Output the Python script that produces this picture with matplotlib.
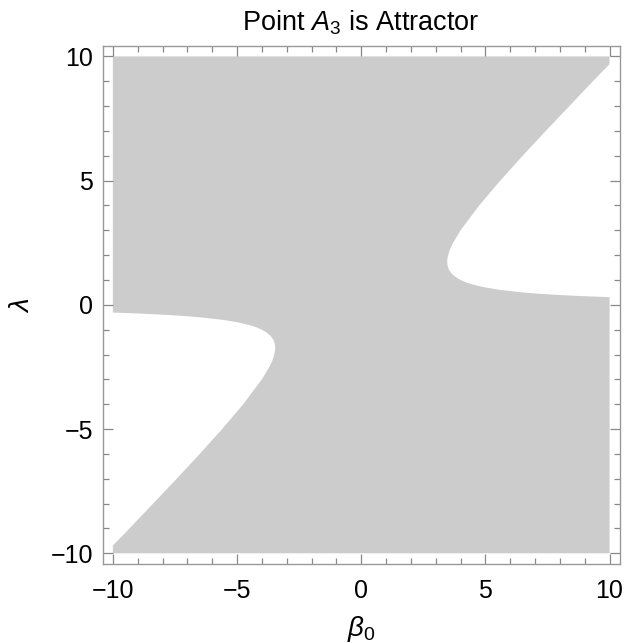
import matplotlib
matplotlib.use("Agg")
import matplotlib.pyplot as plt
from matplotlib.ticker import MultipleLocator

plt.rcParams['font.family'] = ['Liberation Sans', 'DejaVu Sans']
plt.rcParams['mathtext.fontset'] = 'custom'
plt.rcParams['mathtext.rm'] = 'Liberation Sans'
plt.rcParams['mathtext.it'] = 'Liberation Sans:italic'
plt.rcParams['mathtext.sf'] = 'Liberation Sans'
plt.rcParams['axes.unicode_minus'] = True

# Boundary of the right white (non-attractor) region:
# lambda values and the beta_0 value of the boundary at each lambda
lam_right = [9.69, 9.0, 8.0, 7.0, 6.0, 5.0, 4.0, 3.0, 2.5, 2.25, 2.0, 1.9, 1.75,
             1.6, 1.5, 1.4, 1.25, 1.1, 1.0, 0.9, 0.8, 0.7, 0.6, 0.5, 0.45, 0.4,
             0.35, 0.31]
beta_right = [10.0, 9.33, 8.38, 7.43, 6.5, 5.6, 4.75, 4.0, 3.7, 3.58, 3.5, 3.48, 3.46,
              3.475, 3.5, 3.54, 3.65, 3.83, 4.0, 4.23, 4.55, 4.99, 5.6, 6.5, 7.12, 7.9,
              8.92, 10.0]
# Left white region (mirror through origin), read the same way
lam_left = [-v for v in lam_right]
beta_left = [-v for v in beta_right]

beta_range = [-10, 10]
lam_range = [-10, 10]
xticks = [-10, -5, 0, 5, 10]
yticks = [-10, -5, 0, 5, 10]
tick_labels = ['\u221210', '\u22125', '0', '5', '10']

fig = plt.figure(figsize=(6.26, 6.43), dpi=100)
ax = fig.add_axes([0.164, 0.1233, 0.826, 0.8052])

# Gray attractor region polygon
bx = [beta_range[0], beta_range[1]] + beta_right + [beta_range[1], beta_range[0]] + beta_left
by = [lam_range[1], lam_range[1]] + lam_right + [lam_range[0], lam_range[0]] + lam_left
ax.fill(bx, by, color='#cccccc', lw=0)

ax.set_xlim(-10.41, 10.41)
ax.set_ylim(-10.42, 10.42)
ax.set_xticks(xticks)
ax.set_yticks(yticks)
ax.set_xticklabels(tick_labels)
ax.set_yticklabels(tick_labels)
ax.xaxis.set_minor_locator(MultipleLocator(1))
ax.yaxis.set_minor_locator(MultipleLocator(1))
ax.tick_params(which='both', direction='in', top=True, right=True, color='#888888', width=0.9)
ax.tick_params(which='major', length=7, labelsize=18, pad=7)
ax.tick_params(which='minor', length=4)
ax.tick_params(axis='x', which='major', pad=11)
for s in ax.spines.values():
    s.set_color('#999999')
    s.set_linewidth(1.0)

ax.set_title(r'Point $A_3$ is Attractor', fontsize=19.5, pad=11)
ax.set_xlabel(r'$\beta_0$', fontsize=20, labelpad=8)
ax.set_ylabel(r'$\lambda$', fontsize=20, labelpad=11)

fig.savefig('out.png', dpi=100)
